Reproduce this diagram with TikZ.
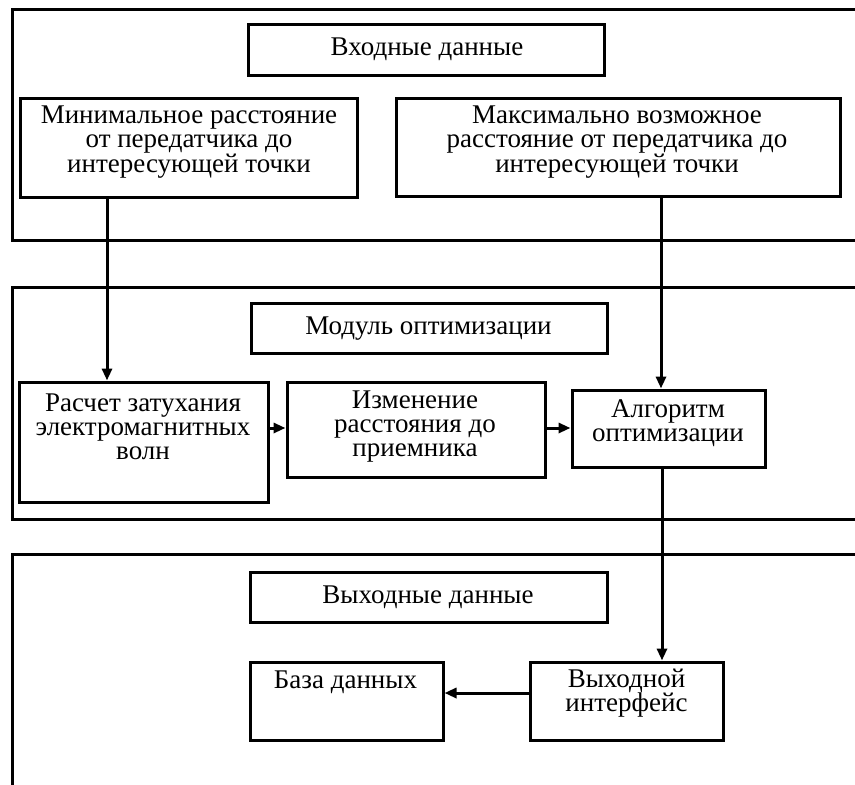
\documentclass[tikz,border=0pt]{standalone}
\usepackage{fontspec}
\setmainfont{Liberation Serif}
\usetikzlibrary{arrows.meta}
\tikzset{
  x=1pt, y=-1pt,
  frame/.style={line width=3pt, line join=miter},
  box/.style={draw, line width=3pt, inner sep=0pt, rectangle},
  txt/.style={align=center, inner sep=0pt, font=\fontsize{27}{24}\selectfont},
  arr/.style={line width=3pt, -{Triangle[length=12pt,width=10pt]}}
}
\begin{document}
\begin{tikzpicture}
\useasboundingbox (0,0) rectangle (855,785);
\clip (0,0) rectangle (855,785);
% outer frames
\draw[frame] (870,9) -- (12,9) -- (12,240) -- (870,240);
\draw[frame] (870,287) -- (12,287) -- (12,519) -- (870,519);
\draw[frame] (870,554) -- (12,554) -- (12,800);
% boxes
\node[box, minimum width=356pt, minimum height=51pt] (tin) at (426,49.5) {};
\node[box, minimum width=337pt, minimum height=99pt] (minb) at (188.5,147.5) {};
\node[box, minimum width=444pt, minimum height=98pt] (maxb) at (618,147) {};
\node[box, minimum width=356pt, minimum height=50pt] (tmod) at (429,328) {};
\node[box, minimum width=249pt, minimum height=120pt] (calc) at (143.5,442) {};
\node[box, minimum width=258pt, minimum height=95pt] (chg) at (416,429.5) {};
\node[box, minimum width=193pt, minimum height=77pt] (alg) at (668.5,428.5) {};
\node[box, minimum width=357pt, minimum height=50pt] (tout) at (428.5,597) {};
\node[box, minimum width=193pt, minimum height=78pt] (db) at (346.5,701) {};
\node[box, minimum width=193pt, minimum height=78pt] (oif) at (626.5,701) {};
% texts
\node[txt] (ttin) at (427,49) {Входные данные};
\node[txt] (tminb) at (189,142) {Минимальное расстояние\\от передатчика до\\интересующей точки};
\node[txt] (tmaxb) at (617,142) {Максимально возможное\\расстояние от передатчика до\\интересующей точки};
\node[txt] (ttmod) at (428.5,329) {Модуль оптимизации};
\node[txt] (tcalc) at (143,427) {Расчет затухания\\электромагнитных\\волн};
\node[txt] (tchg) at (415,427) {Изменение\\расстояния до\\приемника};
\node[txt] (talg) at (668,423.5) {Алгоритм\\оптимизации};
\node[txt] (ttout) at (428,597) {Выходные данные};
\node[txt] (tdb) at (345.5,682) {База данных};
\node[txt] (toif) at (626.5,693.5) {Выходной\\интерфейс};
% connectors
\draw[arr] (minb.south -| 107,0) -- (calc.north -| 107,0);
\draw[arr] (maxb.south -| 661,0) -- (alg.north -| 661,0);
\draw[arr] (calc.east |- 0,428) -- (chg.west |- 0,428);
\draw[arr] (chg.east |- 0,428) -- (alg.west |- 0,428);
\draw[arr] (alg.south -| 662,0) -- (oif.north -| 662,0);
\draw[arr] (oif.west |- 0,693) -- (db.east |- 0,693);
\end{tikzpicture}
\end{document}
